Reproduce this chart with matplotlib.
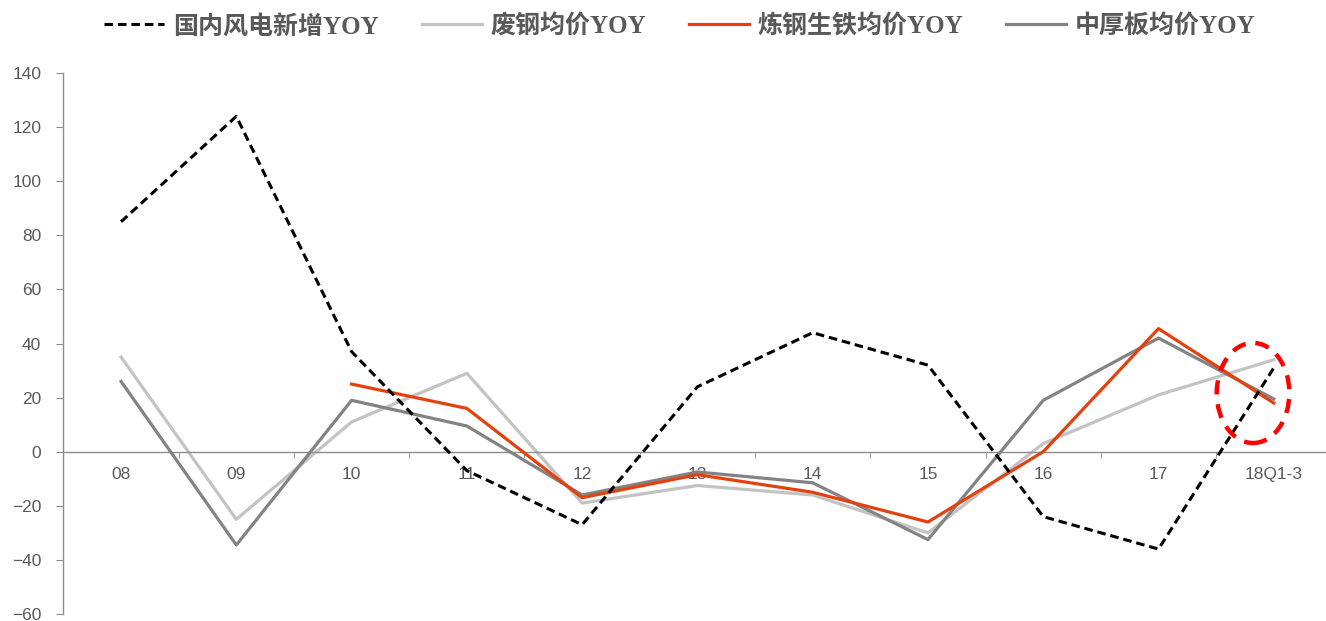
import numpy as np
import matplotlib
matplotlib.use("Agg")
import matplotlib.pyplot as plt
from matplotlib.patches import Ellipse

plt.rcParams['font.family'] = ['Liberation Sans', 'Noto Sans CJK SC', 'DejaVu Sans']

# 数据
years = ['08', '09', '10', '11', '12', '13', '14', '15', '16', '17', '18Q1-3']
wind_yoy = [85, 124, 37, -7, -27, 24, 44, 32, -24, -36, 31]
scrap_yoy = [35, -25, 11, 29, -19, -12.5, -16, -30, 3, 21, 34]
pig_yoy = [np.nan, np.nan, 25, 16, -17, -8.5, -15, -26, 0, 45.5, 18]
plate_yoy = [26, -34.5, 19, 9.5, -16, -7.5, -11.5, -32.5, 19, 42, 19.5]

names = ['国内风电新增YOY', '废钢均价YOY', '炼钢生铁均价YOY', '中厚板均价YOY']

x = np.arange(len(years))
axis_color = '#8c8c8c'
text_color = '#595959'

fig = plt.figure(figsize=(13.26, 6.21), dpi=100)
ax = fig.add_axes([0.0478, 0.0113, 0.9563, 0.8711])

ax.plot(x, scrap_yoy, color='#c3c3c3', lw=2.3, label=names[1], zorder=2)
ax.plot(x, plate_yoy, color='#838383', lw=2.3, label=names[3], zorder=3)
ax.plot(x, pig_yoy, color='#e5410f', lw=2.3, label=names[2], zorder=4)
ax.plot(x, wind_yoy, color='black', lw=2.2, linestyle=(0, (2.8, 1.6)),
        label=names[0], zorder=5)

# 红色虚线圈
ell = Ellipse((9.82, 21.7), 0.63, 37, fill=False, edgecolor='#ff0000',
              lw=3.2, linestyle=(0, (3.2, 2.2)), zorder=6)
ax.add_patch(ell)

ax.set_xlim(-0.5, 10.5)
ax.set_ylim(-60, 140)
ax.set_yticks(np.arange(-60, 141, 20))
ax.set_xticks(x)
ax.set_xticklabels(years)
ax.set_xticks(x[:-1] + 0.5, minor=True)

for s in ['top', 'right']:
    ax.spines[s].set_visible(False)
ax.spines['bottom'].set_position(('data', 0))
ax.spines['left'].set_color(axis_color)
ax.spines['bottom'].set_color(axis_color)
ax.spines['left'].set_linewidth(1.0)
ax.spines['bottom'].set_linewidth(1.0)
ax.set_axisbelow(True)

ax.tick_params(axis='x', which='major', length=0, pad=11,
               labelsize=12.5, labelcolor=text_color)
ax.tick_params(axis='x', which='minor', length=4, direction='out',
               color=axis_color)
ax.tick_params(axis='y', length=5, direction='out', color=axis_color,
               pad=11, labelsize=12.5, labelcolor=text_color)

handles, labels = ax.get_legend_handles_labels()
order = [3, 0, 2, 1]
leg = fig.legend([handles[i] for i in order], [labels[i] for i in order],
                 loc='center', bbox_to_anchor=(0.513, 0.958), ncol=4,
                 frameon=False, handlelength=2.4, handletextpad=0.36,
                 columnspacing=1.7,
                 prop={'family': ['Liberation Serif', 'Noto Sans CJK SC'],
                       'weight': 'bold', 'size': 18})
for t in leg.get_texts():
    t.set_color(text_color)

fig.savefig('out.png', dpi=100)
